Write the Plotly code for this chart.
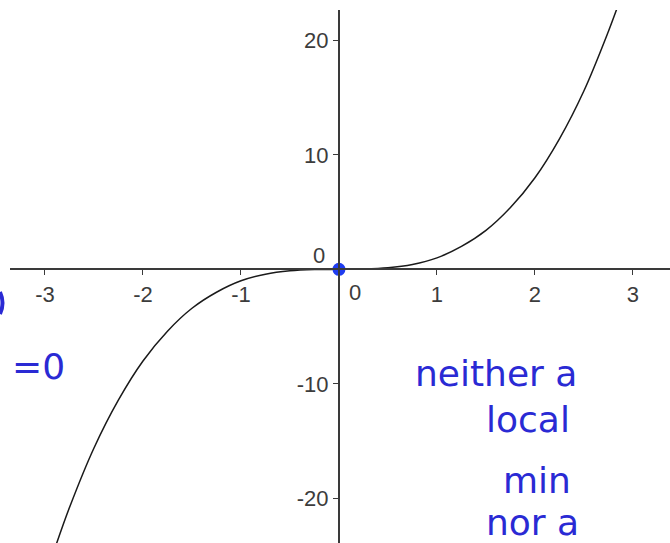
import plotly.graph_objects as go

# Sample points along the cubic curve
x_vals = [-2.9, -2.75, -2.5, -2.25, -2.0, -1.75, -1.5, -1.25, -1.0, -0.75, -0.5,
          -0.25, 0.0, 0.25, 0.5, 0.75, 1.0, 1.25, 1.5, 1.75, 2.0, 2.25, 2.5, 2.75, 2.85]
y_vals = [-24.4, -20.8, -15.6, -11.4, -8.0, -5.4, -3.4, -2.0, -1.0, -0.42, -0.13,
          -0.02, 0.0, 0.02, 0.13, 0.42, 1.0, 2.0, 3.4, 5.4, 8.0, 11.4, 15.6, 20.8, 23.1]

# Critical point marked on the curve
point_x = [0.0]
point_y = [0.0]

x_ticks = [-3, -2, -1, 1, 2, 3]
y_ticks = [-20, -10, 10, 20]

ink = "#2a2ad4"
dot_col = "#1f3cf0"
axis_col = "#3a3a3a"
label_font = dict(family="Liberation Sans, Arial, sans-serif", size=22, color="#3c3c3c")

fig = go.Figure()
fig.add_trace(go.Scatter(x=x_vals, y=y_vals, mode="lines",
                         line=dict(color="#1a1a1a", width=1.5, shape="spline"),
                         hoverinfo="skip"))
fig.add_trace(go.Scatter(x=point_x, y=point_y, mode="markers",
                         marker=dict(color=dot_col, size=13), hoverinfo="skip"))

W, H = 670, 543
ml, mt = 10, 10
x_range = [-3.357, 3.378]
y_range = [-23.9, 22.65]

fig.update_layout(
    width=W, height=H,
    margin=dict(l=ml, r=0, t=mt, b=0),
    paper_bgcolor="white", plot_bgcolor="white",
    showlegend=False,
    xaxis=dict(range=x_range, anchor="free",
               position=(0 - y_range[0]) / (y_range[1] - y_range[0]),
               showgrid=False, zeroline=False,
               showline=True, linecolor=axis_col, linewidth=2,
               ticks="outside", ticklen=5, tickwidth=1, tickcolor=axis_col,
               tickvals=x_ticks, ticktext=[str(v) for v in x_ticks],
               tickfont=label_font, fixedrange=True),
    yaxis=dict(range=y_range, anchor="free",
               position=(0 - x_range[0]) / (x_range[1] - x_range[0]),
               showgrid=False, zeroline=False,
               showline=True, linecolor=axis_col, linewidth=2,
               ticks="outside", ticklen=5, tickwidth=1, tickcolor=axis_col,
               tickvals=y_ticks, ticktext=[str(v) for v in y_ticks],
               tickfont=label_font, fixedrange=True),
)

# Origin labels, offset from the axes
fig.add_annotation(x=0, y=0, xref="x", yref="y", text="0", showarrow=False,
                   font=label_font, xanchor="left", yanchor="top", xshift=8, yshift=-9)
fig.add_annotation(x=0, y=0, xref="x", yref="y", text="0", showarrow=False,
                   font=label_font, xanchor="right", yanchor="bottom", xshift=-12, yshift=-1)


def px_to_paper(px, py):
    """Convert a page pixel position into paper coordinates."""
    return (px - ml) / (W - ml), (H - py) / (H - mt)


# Handwritten notes (page pixel anchors)
note_font = dict(family="DejaVu Sans, sans-serif", size=36, color=ink)
notes = [
    (10, 366, "=0", "left"),
    (496, 374, "neither a", "center"),
    (528, 420, "local", "center"),
    (537, 480, "min", "center"),
    (532, 522, "nor a", "center"),
]
for nx, ny, txt, anc in notes:
    px, py = px_to_paper(nx, ny)
    fig.add_annotation(x=px, y=py, xref="paper", yref="paper", text=txt, showarrow=False,
                       font=note_font, xanchor=anc, yanchor="middle")

# Small pen stroke at the left edge
x0, y0 = px_to_paper(0, 292)
x1, y1 = px_to_paper(5, 303)
x2, y2 = px_to_paper(0, 314)
fig.add_shape(type="path", xref="paper", yref="paper",
              path=f"M {x0},{y0} Q {x1},{y1} {x2},{y2}",
              line=dict(color=ink, width=4))

fig.write_html("out.html")
